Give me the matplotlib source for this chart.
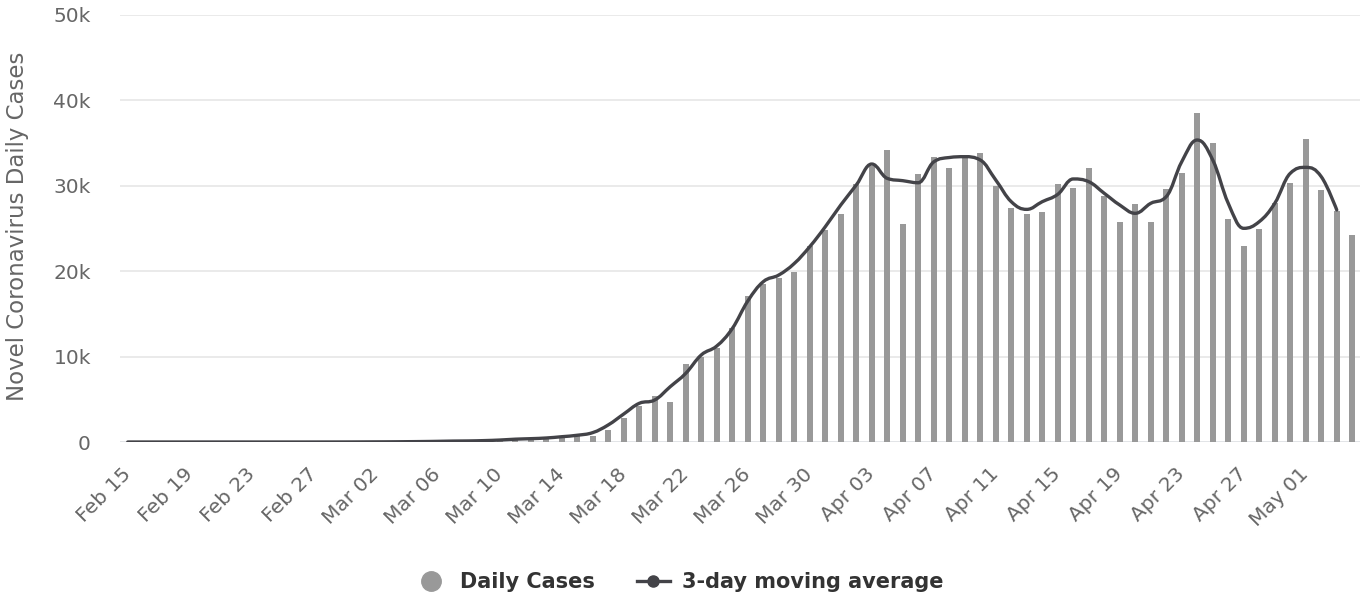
import matplotlib
matplotlib.use("Agg")
import matplotlib.pyplot as plt
from matplotlib.path import Path
from matplotlib.patches import PathPatch
from matplotlib.lines import Line2D
import numpy as np
import pandas as pd

# daily new cases, Feb 15 .. May 04
dates = pd.date_range("2020-02-15", "2020-05-04", freq="D")
daily_cases = [
    0, 0, 0, 0, 0, 0, 2, 0, 0, 0, 1, 0, 1, 2, 5,
    8, 20, 22, 30, 60, 70, 120, 110, 100, 280, 300, 400,
    480, 520, 650, 700, 1400, 2780, 4250, 5390, 4650, 9100,
    10000, 10970, 13300, 17100, 18540, 19150, 19900, 22990, 24820,
    26700, 30170, 32350, 34200, 25500, 31380, 33400, 32050, 33500,
    33800, 29980, 27400, 26700, 26900, 30170, 29740, 32050, 28770,
    25760, 27830, 25760, 29630, 31550, 38570, 35060, 26160, 22920,
    24990, 28030, 30370, 35530, 29470, 27050, 24290,
]

# 3-day moving average, Feb 15 .. May 03
moving_avg = [
    0, 0, 0, 0, 0, 1, 1, 1, 0, 0, 0, 0, 1, 3, 5,
    10, 17, 24, 37, 53, 78, 110, 125, 165, 230, 330, 390,
    470, 620, 790, 1100, 2000, 3280, 4530, 4920, 6480, 8040,
    10190, 11240, 13280, 16500, 18770, 19550, 20900, 22870, 25200,
    27750, 30090, 32550, 30870, 30600, 30360, 32800, 33310, 33410,
    33020, 30680, 28140, 27240, 28140, 29000, 30800, 30480, 29120,
    27750, 26780, 27950, 28730, 32820, 35360, 33020, 27950, 25020,
    25800, 27950, 31460, 32160, 31070, 27170,
]

tick_every = 4
y_ticks = [0, 10000, 20000, 30000, 40000, 50000]
y_tick_labels = ["0", "10k", "20k", "30k", "40k", "50k"]

BAR_COLOR = "#999999"
LINE_COLOR = "#434348"
TEXT_COLOR = "#666666"


def spline_path(xs, ys, smoothing=1.5):
    # bezier spline through every point, same control rule as highcharts
    n = len(xs)
    left = [None] * n
    right = [None] * n
    d = smoothing + 1
    for i in range(1, n - 1):
        px, py = xs[i], ys[i]
        lx, ly = xs[i - 1], ys[i - 1]
        nx, ny = xs[i + 1], ys[i + 1]
        lcx = (smoothing * px + lx) / d
        lcy = (smoothing * py + ly) / d
        rcx = (smoothing * px + nx) / d
        rcy = (smoothing * py + ny) / d
        corr = ((rcy - lcy) * (rcx - px)) / (rcx - lcx) + py - rcy
        lcy += corr
        rcy += corr
        if lcy > max(ly, py):
            lcy = max(ly, py)
            rcy = 2 * py - lcy
        elif lcy < min(ly, py):
            lcy = min(ly, py)
            rcy = 2 * py - lcy
        if rcy > max(py, ny):
            rcy = max(py, ny)
            lcy = 2 * py - rcy
        elif rcy < min(py, ny):
            rcy = min(py, ny)
            lcy = 2 * py - rcy
        left[i] = (lcx, lcy)
        right[i] = (rcx, rcy)

    verts = [(xs[0], ys[0])]
    codes = [Path.MOVETO]
    for i in range(1, n):
        c1 = right[i - 1] if right[i - 1] else (xs[i - 1], ys[i - 1])
        c2 = left[i] if left[i] else (xs[i], ys[i])
        verts += [c1, c2, (xs[i], ys[i])]
        codes += [Path.CURVE4] * 3
    return Path(verts, codes)


fig = plt.figure(figsize=(13.72, 6.02), dpi=100)
ax = fig.add_axes([120 / 1372, 160 / 602, 1240 / 1372, 427 / 602])

x = np.arange(len(dates))
ax.bar(x, daily_cases, width=0.37, color=BAR_COLOR, zorder=2)

xm = np.arange(len(moving_avg))
path = spline_path(xm.astype(float), np.array(moving_avg, dtype=float))
ax.add_patch(PathPatch(path, facecolor="none", edgecolor=LINE_COLOR,
                       lw=2.4, capstyle="round", joinstyle="round", zorder=3))

ax.set_xlim(-0.5, len(dates) - 0.5)
ax.set_ylim(0, 50000)

ax.set_yticks(y_ticks)
ax.set_yticklabels(y_tick_labels)
ax.grid(axis="y", color="#e6e6e6", lw=1.2, zorder=0)
ax.axhline(0, color="#ccd6eb", lw=1.2, zorder=1)

tick_pos = x[::tick_every]
ax.set_xticks(tick_pos)
ax.set_xticklabels([d.strftime("%b %d") for d in dates[::tick_every]])

for s in ax.spines.values():
    s.set_visible(False)
ax.tick_params(axis="both", length=0, labelcolor=TEXT_COLOR, labelsize=14.5)
ax.tick_params(axis="y", pad=21)
ax.tick_params(axis="x", pad=21)
for lbl in ax.get_xticklabels():
    lbl.set_rotation(45)
    lbl.set_rotation_mode("anchor")
    lbl.set_ha("right")
    lbl.set_va("center")

fig.text(18 / 1372, 1 - 226 / 602, "Novel Coronavirus Daily Cases",
         rotation=90, ha="center", va="center", color=TEXT_COLOR, fontsize=16.5)

handles = [
    Line2D([], [], ls="none", marker="o", markersize=14, color=BAR_COLOR),
    Line2D([], [], color=LINE_COLOR, lw=2.4, marker="o", markersize=8),
]
leg = fig.legend(handles, ["Daily Cases", "3-day moving average"],
                 loc="center", bbox_to_anchor=(0.495, 1 - 582 / 602), ncol=2,
                 frameon=False, handlelength=1.6, columnspacing=2.0,
                 handletextpad=0.6,
                 prop={"size": 15, "weight": "bold"})
for t in leg.get_texts():
    t.set_color("#333333")

fig.savefig("out.png", dpi=100)
